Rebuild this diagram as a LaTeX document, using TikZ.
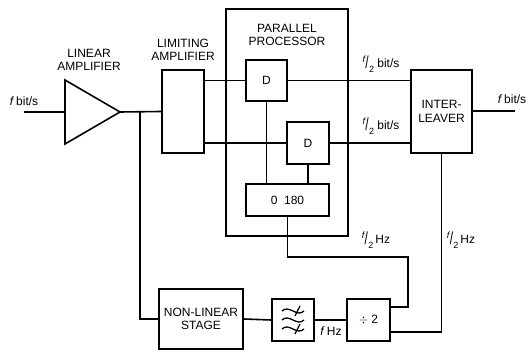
\documentclass[tikz,border=0pt]{standalone}
\usepackage{fontspec}
\setmainfont{Liberation Sans}
\usepackage{graphicx}
\usepackage{tikz}
\usetikzlibrary{calc}

\newcommand{\halff}{\raisebox{5pt}{\small\itshape f}\kern0.3pt\raisebox{-1.5pt}{\scalebox{1}[1.45]{/}}\kern0.3pt\raisebox{-5pt}{\small 2}}

\begin{document}
\begin{tikzpicture}[
    x=1pt, y=-1pt,
    line width=1.6pt,
    font=\fontsize{12}{13.5}\selectfont,
    blk/.style={rectangle, draw, line width=1.6pt, inner sep=0pt, align=center},
    lbl/.style={inner sep=0pt, align=center},
    wire/.style={line width=1.6pt}
]
    \useasboundingbox (0,0) rectangle (528,352);

    % linear amplifier
    \draw (65,80) -- (120,112) -- (65,144) -- cycle;
    \coordinate (ampin) at (65,112);
    \coordinate (ampout) at (120,112);
    \coordinate (src) at (24,112);
    \coordinate (br) at (140,112);

    \node[blk, minimum width=42pt, minimum height=83pt] (limamp) at (183,111.5) {};
    \node[blk, minimum width=122pt, minimum height=227pt] (proc) at (287,122.5) {};
    \node[blk, minimum width=41pt, minimum height=41pt] (dA) at (266.5,80.5) {D};
    \node[blk, minimum width=42pt, minimum height=42pt] (dB) at (308,143) {D};
    \node[blk, minimum width=83pt, minimum height=32pt] (phase) at (287.5,200) {0\ \ 180};
    \node[blk, minimum width=61pt, minimum height=83pt] (ilv) at (441.5,111.5) {INTER-\\LEAVER};
    \node[blk, minimum width=84pt, minimum height=60pt] (nls) at (201,319) {NON-LINEAR\\STAGE};
    \node[blk, minimum width=42pt, minimum height=42pt] (bpf) at (293,320) {};
    \node[blk, minimum width=43pt, minimum height=42pt] (div) at (368.5,320) {$\div$\ 2};
    \coordinate (snk) at (515,111);

    % filter symbol
    \foreach \dy in {-9,0,9}
        \draw[line width=1.3pt] ($(bpf.center)+(-11,\dy)$) .. controls ($(bpf.center)+(-4,\dy-7)$) and ($(bpf.center)+(4,\dy+7)$) .. ($(bpf.center)+(11,\dy)$);
    \foreach \dy in {-9,9}
        \draw[line width=1.3pt] ($(bpf.center)+(2,\dy+5)$) -- ($(bpf.center)+(7,\dy-5)$);

    % labels
    \node[lbl] (lin) at (89,60) {LINEAR\\AMPLIFIER};
    \node[lbl] (limlbl) at (183,50) {LIMITING\\AMPLIFIER};
    \node[lbl] (proclbl) at (287,35) {PARALLEL\\PROCESSOR};
    \node[lbl] (fin) at (24,101) {\textit{f}\,bit/s};
    \node[lbl] (fout) at (512,99) {\textit{f}\,bit/s};
    \node[lbl] (hA) at (381,64) {\halff\ bit/s};
    \node[lbl] (hB) at (381,126) {\halff\ bit/s};
    \node[lbl] (hzA) at (376,240) {\halff\,Hz};
    \node[lbl] (hzB) at (461,240) {\halff\,Hz};
    \node[lbl] (fhz) at (331,331) {\textit{f}\,Hz};

    % connections
    \draw[wire] (src) -- (ampin);
    \draw[wire] (ampout) -- (limamp.west);
    \draw[wire] (br) |- (nls.west);
    \draw[wire] (limamp.east |- dA.west) -- (dA.west);
    \draw[wire] (limamp.east |- dB.west) -- (dB.west);
    \draw[wire] (dA.east) -- (ilv.west |- dA.east);
    \draw[wire] (dB.east) -- (ilv.west |- dB.east);
    \draw[wire] (dA.south) -- (dA.south |- phase.north);
    \draw[wire] (dB.south) -- (dB.south |- phase.north);
    \draw[wire] (ilv.east |- snk) -- (snk);
    \draw[wire] (phase.south) |- (408,257) |- ([yshift=13pt]div.east);
    \draw[wire] (ilv.south) |- ([yshift=-12pt]div.east);
    \draw[wire] (nls.east) -- (bpf.west);
    \draw[wire] (bpf.east) -- (div.west);
\end{tikzpicture}
\end{document}
